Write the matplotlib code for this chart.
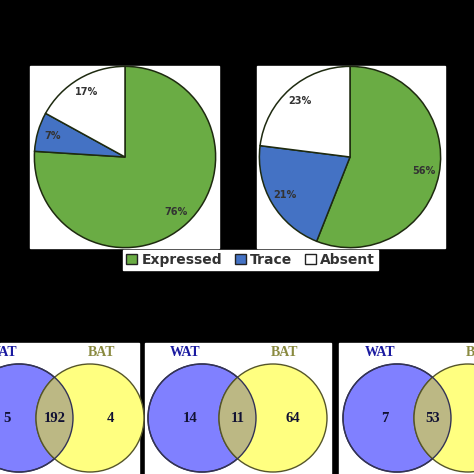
import matplotlib
matplotlib.use("Agg")
import matplotlib.pyplot as plt
from matplotlib.patches import Circle, Rectangle, Patch

# pie data (percent)
pie_labels = ["Expressed", "Trace", "Absent"]
pie_left = [76, 7, 17]
pie_right = [56, 21, 23]
pie_colors = ["#6aac44", "#4472c4", "#ffffff"]

# venn counts: (WAT only, shared, BAT only)
venn_counts = [(5, 192, 4), (14, 11, 64), (7, 53, None)]

fig = plt.figure(figsize=(4.74, 4.74), dpi=100)
fig.patch.set_facecolor("black")
W = H = 474.0

bg = fig.add_axes([0, 0, 1, 1])
bg.set_xlim(0, W)
bg.set_ylim(H, 0)
bg.axis("off")

# white panels
for x0, y0, x1, y1 in [(30, 66, 219, 248), (257, 66, 445, 248),
                       (0, 343, 139, 474), (145, 343, 331, 474), (339, 343, 474, 474)]:
    bg.add_patch(Rectangle((x0, y0), x1 - x0, y1 - y0, color="white", zorder=0))

def pie_axes(cx, cy, r):
    return fig.add_axes([(cx - r) / W, 1 - (cy + r) / H, 2 * r / W, 2 * r / H])

for (cx, cy), vals in [((125, 157), pie_left), ((350, 157), pie_right)]:
    ax = pie_axes(cx, cy, 92)
    ax.pie(vals, colors=pie_colors, startangle=90, counterclock=False,
           autopct="%d%%", pctdistance=0.83, radius=0.985,
           wedgeprops=dict(edgecolor="#1e2a10", linewidth=1.1),
           textprops=dict(fontsize=7, fontweight="bold", color="#333333"))
    ax.set_xlim(-1, 1)
    ax.set_ylim(-1, 1)
    ax.set_aspect("equal")

handles = [Patch(facecolor=c, edgecolor="#222222", label=l) for c, l in zip(pie_colors, pie_labels)]
leg = fig.legend(handles=handles, loc="center", bbox_to_anchor=(250.5 / W, 1 - 260 / H),
                 ncol=3, frameon=True, fancybox=False, framealpha=1, handlelength=0.8,
                 handleheight=0.8, handletextpad=0.3, columnspacing=0.9, borderpad=0.2,
                 prop=dict(size=10, weight="bold"))
leg.get_frame().set_edgecolor("white")
leg.get_frame().set_facecolor("white")
for t in leg.get_texts():
    t.set_color("#333333")

# venn diagrams
venn_centers = [(19, 90), (202, 273), (397, 468)]
for (bx, yx), counts in zip(venn_centers, venn_counts):
    cy = 418
    r = 54
    bg.add_patch(Circle((bx, cy), r, facecolor="#8080ff", edgecolor="#333355", lw=1, zorder=1))
    bg.add_patch(Circle((yx, cy), r, facecolor="#ffff80", edgecolor="#55552a", lw=1, zorder=2))
    ov = Circle((yx, cy), r, facecolor="#bcb884", edgecolor="#55552a", lw=1, zorder=3)
    bg.add_patch(ov)
    ov.set_clip_path(Circle((bx, cy), r, transform=bg.transData))
    bg.add_patch(Circle((bx, cy), r, facecolor="none", edgecolor="#333355", lw=1, zorder=4))
    bg.text(bx - 17, 352, "WAT", color="#1a1aa0", fontsize=10, fontweight="bold",
            family="Liberation Serif", ha="center", va="center", zorder=5)
    bg.text(yx + 12, 352, "BAT", color="#8a8a40", fontsize=10, fontweight="bold",
            family="Liberation Serif", ha="center", va="center", zorder=5)
    xs = [bx - 12, (bx + yx) / 2, yx + 20]
    for x, v in zip(xs, counts):
        if v is not None:
            bg.text(x, cy, str(v), color="#111133", fontsize=10.5, fontweight="bold",
                    family="Liberation Serif", ha="center", va="center", zorder=5)

fig.savefig("out.png", dpi=100, facecolor="black")
